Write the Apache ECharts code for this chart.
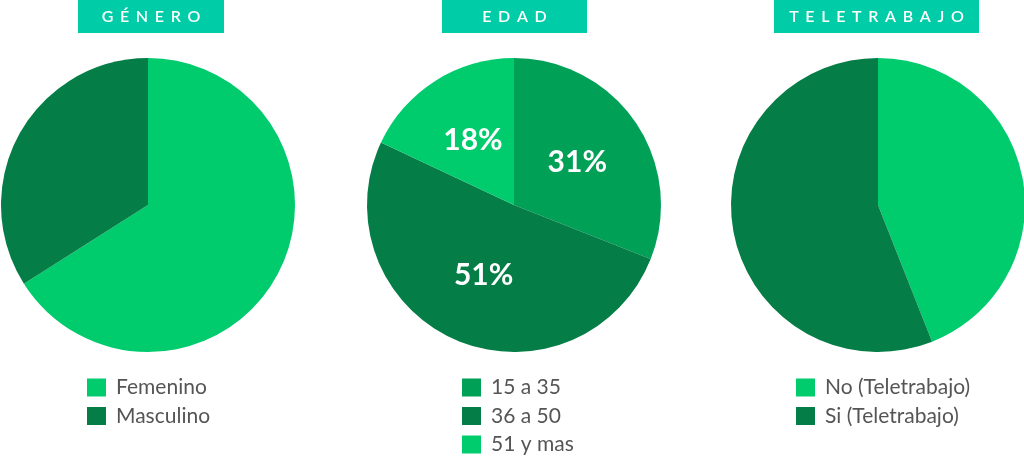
<!DOCTYPE html>
<html>
<head>
<meta charset="utf-8">
<script src="https://cdn.jsdelivr.net/npm/echarts@6/dist/echarts.min.js"></script>
<style>
    html, body {
        margin: 0;
        padding: 0;
        background: #fff;
    }

    #chart {
        width: 1024px;
        height: 457px;
    }
</style>
</head>
<body>
<div id="chart"></div>
<script>
    // datos
    var titulos = ['GÉNERO', 'EDAD', 'TELETRABAJO'];

    var generoNombres = ['Femenino', 'Masculino'];
    var generoValores = [66, 34];

    var edadNombres = ['15 a 35', '36 a 50', '51 y mas'];
    var edadValores = [31, 51, 18];

    var teleNombres = ['No (Teletrabajo)', 'Si (Teletrabajo)'];
    var teleValores = [44, 56];

    var verdeClaro = '#00CC6E',
        verdeMedio = '#00A057',
        verdeOscuro = '#047E46',
        turquesa = '#00CCA8';

    var toData = function(nombres, valores, colores) {
        var out = [];
        for (var i = 0; i < nombres.length; i++) {
            out.push({
                name: nombres[i],
                value: valores[i],
                itemStyle: { color: colores[i] }
            });
        }
        return out;
    };

    // separa letras para imitar el espaciado del titulo
    var espaciar = function(txt) {
        return txt.split('').join('\u2005\u2006');
    };

    var cajas = [
        { x: 78, w: 146 },
        { x: 442, w: 145 },
        { x: 774, w: 205 }
    ];

    var graphics = [];
    for (var i = 0; i < titulos.length; i++) {
        graphics.push({
            type: 'group',
            left: cajas[i].x,
            top: 0,
            children: [{
                type: 'rect',
                shape: { x: 0, y: 0, width: cajas[i].w, height: 33 },
                style: { fill: turquesa }
            }, {
                type: 'text',
                x: cajas[i].w / 2,
                y: 17,
                style: {
                    text: espaciar(titulos[i]),
                    fill: '#fff',
                    font: '600 16px Lato',
                    textAlign: 'center',
                    textVerticalAlign: 'middle'
                }
            }]
        });
    }

    var legendBase = function(left, names) {
        return {
            orient: 'vertical',
            left: left,
            top: 377,
            height: 100,
            data: names,
            icon: 'rect',
            itemWidth: 19,
            itemHeight: 18,
            itemGap: 7.5,
            padding: 0,
            selectedMode: false,
            textStyle: {
                fontFamily: 'Lato',
                fontSize: 21,
                color: '#555',
                lineHeight: 18,
                padding: [0, 0, 0, 5]
            }
        };
    };

    var pieBase = function(name, cx, data) {
        return {
            name: name,
            type: 'pie',
            center: [cx, 205],
            radius: [0, 147],
            startAngle: 90,
            clockwise: true,
            silent: true,
            label: { show: false },
            labelLine: { show: false },
            itemStyle: { borderWidth: 0 },
            data: data
        };
    };

    var edadSerie = pieBase('Edad', 514, toData(edadNombres, edadValores, [verdeMedio, verdeOscuro, verdeClaro]));
    edadSerie.label = {
        show: true,
        position: 'inside',
        formatter: '{c}%',
        color: '#fff',
        fontFamily: 'Lato',
        fontWeight: 'bold',
        fontSize: 30
    };

    var myChart = echarts.init(document.getElementById('chart'));
    var option = {
        animation: false,
        backgroundColor: '#fff',
        graphic: graphics,
        legend: [
            legendBase(87, generoNombres),
            legendBase(462, edadNombres),
            legendBase(796, teleNombres)
        ],
        series: [
            pieBase('Género', 148, toData(generoNombres, generoValores, [verdeClaro, verdeOscuro])),
            edadSerie,
            pieBase('Teletrabajo', 878, toData(teleNombres, teleValores, [verdeClaro, verdeOscuro]))
        ]
    };
    myChart.setOption(option);
</script>
</body>
</html>
